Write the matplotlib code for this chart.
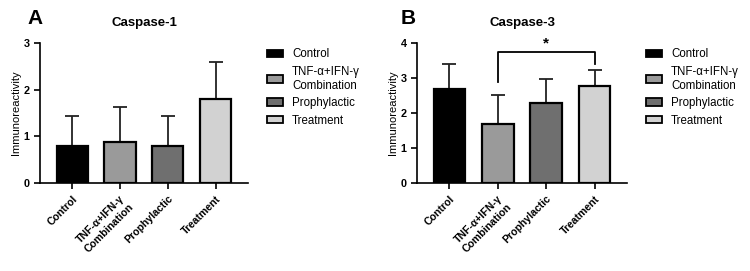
import matplotlib
matplotlib.use("Agg")
import matplotlib.pyplot as plt
from matplotlib.patches import Patch
import numpy as np

plt.rcParams['font.family'] = ['Liberation Sans', 'DejaVu Sans']

groups = ["Control", "TNF-α+IFN-γ\nCombination", "Prophylactic", "Treatment"]
colors = ["#000000", "#9a9a9a", "#6f6f6f", "#d2d2d2"]

casp1_mean = [0.79, 0.88, 0.79, 1.79]
casp1_err = [0.64, 0.75, 0.64, 0.80]
casp3_mean = [2.69, 1.69, 2.28, 2.77]
casp3_err = [0.70, 0.82, 0.70, 0.45]

fig = plt.figure(figsize=(7.5, 2.71), dpi=100)
axA = fig.add_axes([0.0533, 0.3247, 0.2773, 0.5166])
axB = fig.add_axes([0.556, 0.3247, 0.280, 0.5166])

def draw(ax, means, errs, ymax, title):
    x = np.arange(len(groups))
    ax.bar(x, means, width=0.65, color=colors, edgecolor="black", linewidth=1.6, zorder=2)
    ax.errorbar(x, means, yerr=[np.zeros(len(errs)), errs], fmt="none",
                ecolor="#222222", elinewidth=1.3, capsize=5, capthick=1.3, zorder=1)
    ax.set_xlim(-0.67, 3.67)
    ax.set_ylim(0, ymax)
    ax.set_yticks(range(0, ymax + 1))
    ax.spines['top'].set_visible(False)
    ax.spines['right'].set_visible(False)
    for s in ['left', 'bottom']:
        ax.spines[s].set_linewidth(1.2)
    ax.tick_params(axis='both', width=1.2, length=4, labelsize=7.8)
    ax.set_xticks(x)
    ax.set_xticklabels(groups, rotation=45, ha="right", rotation_mode="anchor",
                       fontweight="bold", fontsize=7.6, multialignment="center")
    for lbl in ax.get_yticklabels():
        lbl.set_fontweight("bold")
    ax.set_ylabel("Immunoreactivity", fontsize=8, labelpad=2)
    ax.set_title(title, fontsize=9.5, fontweight="bold", pad=12)
    handles = [Patch(facecolor=c, edgecolor="black", linewidth=1.3) for c in colors]
    ax.legend(handles, groups, loc="upper left", bbox_to_anchor=(1.04, 1.035),
              frameon=False, fontsize=8.3, handlelength=1.4, handleheight=0.65,
              labelspacing=0.47, handletextpad=0.8)

draw(axA, casp1_mean, casp1_err, 3, "Caspase-1")
draw(axB, casp3_mean, casp3_err, 4, "Caspase-3")

# significance bracket
axB.plot([1, 1, 3, 3], [2.9, 3.75, 3.75, 3.4], color="black", linewidth=1.3, clip_on=False)
axB.text(2, 3.8, "*", ha="center", va="bottom", fontsize=11, fontweight="bold")

fig.text(27/750, 1 - 18/271, "A", fontsize=15, fontweight="bold", ha="left", va="center")
fig.text(401/750, 1 - 18/271, "B", fontsize=15, fontweight="bold", ha="left", va="center")

fig.savefig("out.png", dpi=100)
